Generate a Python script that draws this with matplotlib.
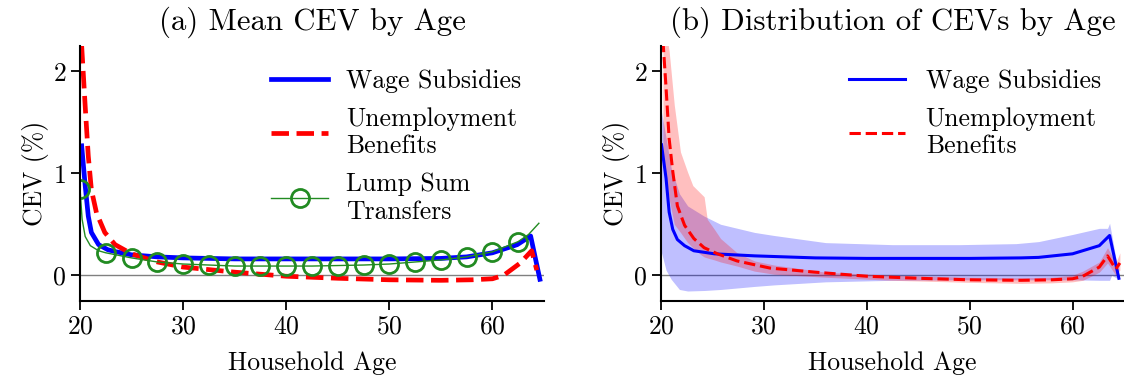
import matplotlib
matplotlib.use("Agg")
import matplotlib.pyplot as plt

plt.rcParams['font.family'] = 'serif'
plt.rcParams['font.serif'] = ['cmr10']
plt.rcParams['mathtext.fontset'] = 'cm'
plt.rcParams['axes.formatter.use_mathtext'] = True
plt.rcParams['font.size'] = 18.5

# --- (a) mean CEV by age ---
ws_age = [20.16, 20.5, 20.8, 21.1, 21.8, 22.7, 23.5, 25, 27.5, 30, 35, 40, 45, 50, 55,
          57.5, 60, 62.4, 63.7, 64.6]
ws_mean = [1.27, 0.88, 0.58, 0.42, 0.30, 0.25, 0.23, 0.20, 0.18, 0.17, 0.16, 0.16, 0.16,
           0.16, 0.165, 0.18, 0.22, 0.30, 0.385, -0.04]

ub_age = [20.16, 20.5, 20.8, 21.1, 21.6, 22.4, 23.4, 25, 27.5, 30, 35, 40, 45, 50, 55,
          58, 60, 61.1, 62.7, 63.8, 64.3]
ub_mean = [2.25, 1.66, 1.17, 0.84, 0.61, 0.42, 0.30, 0.21, 0.13, 0.08, 0.03, -0.01,
           -0.03, -0.045, -0.05, -0.045, -0.035, 0.0, 0.12, 0.24, 0.05]

ls_age = [20.0, 20.2, 20.5, 21.0, 21.8, 22.5, 25, 27.5, 30, 32.5, 35, 37.5, 40, 42.5,
          45, 47.5, 50, 52.5, 55, 57.5, 60, 62.5, 63.5, 64.5]
ls_mean = [0.85, 0.55, 0.38, 0.29, 0.24, 0.22, 0.17, 0.13, 0.11, 0.10, 0.09, 0.09, 0.09,
           0.09, 0.095, 0.10, 0.11, 0.13, 0.15, 0.18, 0.23, 0.33, 0.40, 0.51]

# --- (b) distribution of CEVs by age ---
ws_med_age = [20.06, 20.5, 20.8, 21.15, 21.6, 22.3, 23.2, 25.2, 29.1, 35, 40, 45, 50,
              55, 56.7, 60, 62.6, 63.6, 64.5]
ws_med = [1.28, 0.95, 0.62, 0.45, 0.35, 0.29, 0.24, 0.21, 0.19, 0.17, 0.165, 0.165,
          0.165, 0.17, 0.175, 0.21, 0.29, 0.39, -0.03]

ws_band_age = [20.06, 20.5, 21.0, 21.8, 22.6, 24.2, 25.8, 29.1, 31, 36, 42.5, 49, 54.5,
               56.7, 60, 62.6, 63.4, 63.6, 63.8, 64.5]
ws_lo = [0.22, 0.05, -0.04, -0.14, -0.155, -0.15, -0.14, -0.11, -0.095, -0.065, -0.05,
         -0.045, -0.045, -0.045, -0.045, -0.05, -0.05, -0.05, 0.0, -0.04]
ws_hi = [1.6, 1.35, 1.05, 0.8, 0.68, 0.58, 0.50, 0.42, 0.39, 0.32, 0.30, 0.30, 0.31,
         0.33, 0.40, 0.46, 0.46, 0.51, 0.40, 0.0]

ub_med_age = [20.2, 20.5, 20.8, 21.15, 21.6, 22.3, 23.2, 24.2, 25.5, 27.4, 30.6, 35, 40,
              45, 50, 55, 58, 60, 61, 62.6, 63.4, 64.2, 64.6]
ub_med = [2.3, 1.84, 1.34, 1.02, 0.68, 0.49, 0.36, 0.27, 0.21, 0.14, 0.07, 0.03, -0.01,
          -0.03, -0.045, -0.05, -0.045, -0.035, -0.01, 0.08, 0.19, 0.06, 0.12]

ub_band_age = [20.2, 20.8, 21.3, 21.9, 22.6, 23.1, 23.9, 24.2, 24.5, 25.2, 25.8, 27.4,
               29.1, 31, 36, 42.5, 50, 55, 58, 60, 61, 62.6, 63.4, 64.2, 64.6]
ub_hi = [2.6, 2.2, 1.67, 1.21, 1.01, 0.88, 0.80, 0.77, 0.55, 0.45, 0.36, 0.22, 0.14,
         0.10, 0.03, 0.0, -0.02, -0.025, -0.02, 0.0, 0.04, 0.13, 0.27, 0.12, 0.22]
ub_lo = [1.2, 0.75, 0.5, 0.42, 0.32, 0.27, 0.2, 0.18, 0.17, 0.15, 0.13, 0.09, 0.04,
         0.01, -0.02, -0.05, -0.07, -0.08, -0.075, -0.065, -0.05, 0.03, 0.12, 0.0, 0.05]

xticks = [20, 30, 40, 50, 60]
yticks = [0, 1, 2]


def style_axes(ax, title):
    ax.set_xlim(20, 65)
    ax.set_ylim(-0.25, 2.25)
    ax.set_xticks(xticks)
    ax.set_yticks(yticks)
    ax.axhline(0, color='gray', linewidth=1.0, zorder=1)
    ax.spines['top'].set_visible(False)
    ax.spines['right'].set_visible(False)
    ax.spines['left'].set_linewidth(1.5)
    ax.spines['bottom'].set_linewidth(1.5)
    ax.tick_params(width=1.3, length=6.5)
    ax.set_xlabel("Household Age", labelpad=9)
    ax.set_ylabel("CEV (%)", labelpad=2)
    ax.set_title(title, pad=12)


fig = plt.figure(figsize=(11.24, 3.76), dpi=100)
ax1 = fig.add_axes([0.0712, 0.2003, 0.4128, 0.6774])
ax2 = fig.add_axes([0.588, 0.2003, 0.412, 0.6774])

# (a)
style_axes(ax1, "(a) Mean CEV by Age")
ax1.plot(ws_age, ws_mean, color='blue', linewidth=3.4, label="Wage Subsidies")
ax1.plot(ub_age, ub_mean, color='red', linestyle='--', linewidth=3.4,
         label="Unemployment\nBenefits")
marks = [i for i, a in enumerate(ls_age) if a % 2.5 == 0]
ax1.plot(ls_age, ls_mean, color='forestgreen', linewidth=1.0, marker='o', markersize=13,
         markerfacecolor='none', markeredgewidth=2.0, markevery=marks,
         label="Lump Sum\nTransfers")
ax1.legend(loc='upper right', bbox_to_anchor=(1.0, 1.0), frameon=False,
           handlelength=2.2, labelspacing=0.55, handletextpad=0.7)

# (b)
style_axes(ax2, "(b) Distribution of CEVs by Age")
ax2.fill_between(ws_band_age, ws_lo, ws_hi, color='blue', alpha=0.25, linewidth=0)
ax2.fill_between(ub_band_age, ub_lo, ub_hi, color='red', alpha=0.25, linewidth=0)
ax2.plot(ws_med_age, ws_med, color='blue', linewidth=2.2, label="Wage Subsidies")
ax2.plot(ub_med_age, ub_med, color='red', linestyle='--', linewidth=2.2,
         label="Unemployment\nBenefits")
ax2.legend(loc='upper right', bbox_to_anchor=(1.0, 1.0), frameon=False,
           handlelength=2.2, labelspacing=0.55, handletextpad=0.8)

fig.savefig("out.png", dpi=100)
